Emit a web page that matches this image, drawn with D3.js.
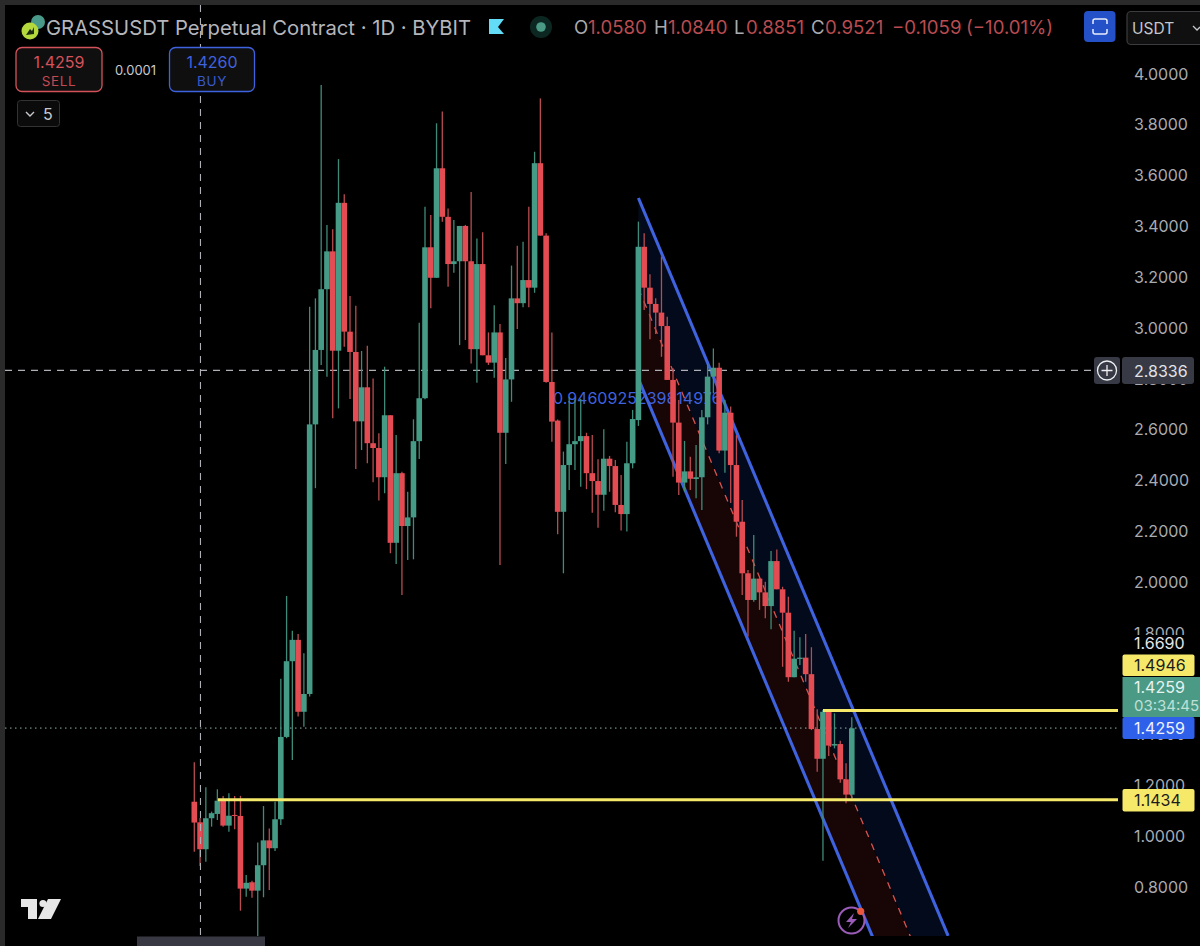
<html>
<script src='https://d3js.org/d3.v7.min.js'></script>

<head>
    <title>GRASSUSDT Perpetual Contract</title>
    <meta charset="UTF-8">
    <style>
        html, body { margin: 0; padding: 0; background: #000; overflow: hidden; }
        text { font-family: Inter, "Noto Sans", sans-serif; }
    </style>
</head>

<body onload='init()'>
    <svg id="chart" width=1200 height=946></svg>
<script>
        // daily candles
        const opens = [1.136,1.055,0.949,1.071,1.088,1.140,1.042,1.084,1.080,0.794,0.819,0.786,0.886,0.984,0.953,1.067,1.391,1.689,1.773,1.490,
            1.560,2.621,2.914,3.153,3.302,2.911,3.493,2.986,2.906,2.633,2.767,2.547,2.528,2.413,2.657,2.155,2.429,2.221,2.255,2.555,
            2.724,3.318,3.198,3.629,3.438,3.252,3.263,3.402,3.263,2.917,3.252,2.893,2.864,2.983,2.588,2.798,3.117,3.098,3.189,3.159,
            3.649,3.364,2.788,2.636,2.277,2.461,2.543,2.555,2.575,2.429,2.398,2.344,2.486,2.457,2.304,2.268,2.468,2.638,3.320,3.159,
            3.095,3.061,3.008,2.796,2.628,2.392,2.436,2.406,2.413,2.649,2.809,2.844,2.518,2.667,2.461,2.238,2.035,1.930,2.014,1.960,
            1.906,2.083,1.972,1.880,1.626,1.698,1.703,1.638,1.422,1.305,1.490,1.357,1.363,1.224,1.164];
        const highs = [1.291,1.072,1.193,1.097,1.185,1.159,1.169,1.159,1.159,0.848,0.825,0.976,1.119,1.031,1.136,1.620,1.946,1.809,1.796,1.720,
            3.084,3.117,3.957,3.406,3.389,3.665,3.527,3.126,3.088,2.910,2.931,2.802,2.586,2.848,2.657,2.579,2.435,2.356,2.641,3.021,
            3.478,3.445,3.806,3.852,3.471,3.425,3.402,3.406,3.536,3.353,3.377,2.983,3.090,3.016,2.882,3.246,3.324,3.340,3.478,3.694,
            3.904,3.373,2.983,2.640,2.514,2.730,2.720,2.721,2.588,2.579,2.484,2.602,2.497,2.481,2.422,2.553,2.678,3.419,3.373,3.212,
            3.117,3.281,3.045,2.842,2.717,2.556,2.494,2.540,2.678,2.861,2.920,2.864,2.717,2.691,2.579,2.323,2.048,2.186,2.016,2.002,
            2.123,2.129,1.982,1.943,1.809,1.783,1.796,1.744,1.500,1.497,1.494,1.484,1.376,1.287,1.468];
        const lows = [0.939,0.883,0.900,1.038,1.064,1.038,1.018,1.028,0.707,0.762,0.758,0.605,0.760,0.789,0.942,1.044,1.386,1.300,1.471,1.431,
            1.550,2.370,2.855,2.809,2.645,2.684,2.927,2.721,2.445,2.520,2.468,2.393,2.321,2.350,2.114,2.072,1.950,2.087,2.090,2.485,
            2.720,3.078,3.198,3.419,3.163,3.218,2.933,2.953,2.861,2.785,2.893,2.855,2.805,2.068,2.465,2.710,2.996,3.082,3.082,3.139,
            3.364,2.785,2.553,2.189,2.035,2.363,2.442,2.376,2.366,2.273,2.214,2.281,2.356,2.275,2.203,2.199,2.448,2.615,3.071,2.956,
            2.977,2.887,2.796,2.415,2.343,2.356,2.363,2.330,2.284,2.621,2.743,2.507,2.431,2.312,2.179,1.950,1.786,1.923,1.891,1.858,
            1.815,1.972,1.667,1.608,1.626,1.674,1.608,1.418,1.254,0.904,1.316,1.346,1.211,1.130,1.150];
        const closes = [1.054,0.949,1.071,1.091,1.140,1.042,1.081,1.080,0.794,0.817,0.786,0.886,0.984,0.953,1.067,1.391,1.689,1.773,1.490,1.560,
            2.621,2.914,3.153,3.302,2.911,3.493,2.986,2.906,2.633,2.767,2.547,2.528,2.413,2.657,2.155,2.429,2.221,2.255,2.555,2.724,
            3.318,3.198,3.629,3.438,3.252,3.263,3.402,3.263,2.917,3.252,2.893,2.864,2.983,2.588,2.798,3.117,3.098,3.189,3.159,3.649,
            3.364,2.788,2.632,2.277,2.461,2.543,2.555,2.575,2.429,2.398,2.344,2.486,2.457,2.304,2.268,2.468,2.642,3.320,3.159,3.095,
            3.061,3.008,2.796,2.628,2.392,2.436,2.407,2.413,2.649,2.809,2.844,2.518,2.667,2.461,2.238,2.035,1.930,2.014,1.960,1.906,
            2.083,1.972,1.880,1.626,1.699,1.703,1.638,1.422,1.305,1.490,1.357,1.363,1.224,1.164,1.425];

        const priceTicks = [4.0,3.8,3.6,3.4,3.2,3.0,2.8,2.6,2.4,2.2,2.0,1.8,1.6,1.4,1.2,1.0,0.8];

        // parallel channel drawing: [bar index, price] at both ends
        const channelBars = [77, 130.7];
        const channelUpper = [3.512, 0.608];
        const channelMiddle = [3.156, 0.252];
        const channelLower = [2.800, -0.104];

        const resistance = 1.4946;
        const support = 1.1434;
        const lastPrice = 1.4259;
        const crossPrice = 2.8336;
        const crossBar = 1.07;

        const upColor = '#459b85', downColor = '#e34c52';
        const upWick = '#3f8b78', downWick = '#b84c50';
        const blue = '#3f62de', yellow = '#f6e96a';

        function init() {
            const svg = d3.select('#chart');
            const x = d3.scaleLinear().domain([0, opens.length - 1]).range([194.3, 851.8]);
            const y = d3.scaleLinear().domain([4, 0.8]).range([74, 887.1]);

            svg.append('rect').attr('width', 1200).attr('height', 946).attr('fill', '#000');

            svg.append('clipPath').attr('id', 'plot').append('rect')
                .attr('x', 5).attr('y', 5).attr('width', 1113).attr('height', 931);
            const plot = svg.append('g').attr('clip-path', 'url(#plot)');

            // channel fills
            const band = d3.area().x(d => x(d[0])).y0(d => y(d[1])).y1(d => y(d[2]));
            plot.append('path').attr('fill', '#030a1b')
                .attr('d', band(channelBars.map((b, i) => [b, channelUpper[i], channelMiddle[i]])));
            plot.append('path').attr('fill', '#180506')
                .attr('d', band(channelBars.map((b, i) => [b, channelMiddle[i], channelLower[i]])));

            const line = d3.line().x(d => x(d[0])).y(d => y(d[1]));
            plot.append('path').attr('fill', 'none').attr('stroke', '#d9534f').attr('stroke-width', 1.3)
                .attr('stroke-dasharray', '7 7')
                .attr('d', line(channelBars.map((b, i) => [b, channelMiddle[i]])));
            [channelUpper, channelLower].forEach(s => {
                plot.append('path').attr('fill', 'none').attr('stroke', blue).attr('stroke-width', 3.1)
                    .attr('d', line(channelBars.map((b, i) => [b, s[i]])));
            });

            plot.append('text').attr('x', 553).attr('y', 404).attr('fill', blue)
                .attr('font-size', 16).text('0.9460925239814976');

            // crosshair and last price line
            plot.append('line').attr('x1', 5).attr('x2', 1094).attr('y1', y(crossPrice)).attr('y2', y(crossPrice))
                .attr('stroke', '#aeb0b6').attr('stroke-width', 1.1).attr('stroke-dasharray', '7 6');
            svg.append('line').attr('x1', x(crossBar)).attr('x2', x(crossBar)).attr('y1', 5).attr('y2', 936)
                .attr('stroke', '#aeb0b6').attr('stroke-width', 1.1).attr('stroke-dasharray', '7 6');
            plot.append('line').attr('x1', 5).attr('x2', 1120).attr('y1', y(lastPrice)).attr('y2', y(lastPrice))
                .attr('stroke', '#8fb5aa').attr('stroke-width', 1).attr('stroke-dasharray', '1.5 3.5');

            // candles
            const bars = plot.append('g').selectAll('g').data(d3.range(opens.length)).enter().append('g');
            bars.append('line')
                .attr('x1', i => x(i)).attr('x2', i => x(i))
                .attr('y1', i => y(highs[i])).attr('y2', i => y(lows[i]))
                .attr('stroke', i => closes[i] >= opens[i] ? upWick : downWick)
                .attr('stroke-width', 1.3);
            bars.append('rect')
                .attr('x', i => x(i) - 2.8).attr('width', 5.6)
                .attr('y', i => y(Math.max(opens[i], closes[i])))
                .attr('height', i => Math.max(1, Math.abs(y(opens[i]) - y(closes[i]))))
                .attr('fill', i => closes[i] >= opens[i] ? upColor : downColor);

            // horizontal levels
            plot.append('line').attr('x1', x(109)).attr('x2', 1118).attr('y1', y(resistance)).attr('y2', y(resistance))
                .attr('stroke', yellow).attr('stroke-width', 3);
            plot.append('line').attr('x1', 218).attr('x2', 1118).attr('y1', y(support)).attr('y2', y(support))
                .attr('stroke', yellow).attr('stroke-width', 3);

            // price axis
            const axis = svg.append('g').attr('transform', 'translate(1118,0)')
                .call(d3.axisRight(y).tickValues(priceTicks).tickFormat(d3.format('.4f')).tickSize(0).tickPadding(16));
            axis.select('.domain').remove();
            axis.selectAll('text').attr('fill', '#a9abb1').attr('font-size', 16).style('font-family', 'Inter, sans-serif');

            // price labels on the axis
            function priceLabel(top, h, w, fill, color, label, size) {
                svg.append('rect').attr('x', 1122.5).attr('y', top).attr('width', w).attr('height', h).attr('rx', 2).attr('fill', fill);
                svg.append('text').attr('x', 1134).attr('y', top + h / 2 + 6).attr('fill', color)
                    .attr('font-size', size || 16).text(label);
            }
            svg.append('rect').attr('x', 1122).attr('y', 635).attr('width', 78).attr('height', 19).attr('fill', '#000');
            svg.append('text').attr('x', 1134).attr('y', 649).attr('fill', '#e4e5e8').attr('font-size', 16).text('1.6690');
            priceLabel(654.5, 21.5, 72, yellow, '#1c1c1c', d3.format('.4f')(resistance));
            priceLabel(717, 22, 72, '#2f60ea', '#f0f3ff', d3.format('.4f')(lastPrice));
            priceLabel(789, 22.5, 72, yellow, '#1c1c1c', d3.format('.4f')(support));
            svg.append('rect').attr('x', 1122.5).attr('y', 677).attr('width', 78).attr('height', 40).attr('fill', '#4a9a85');
            svg.append('text').attr('x', 1134).attr('y', 693).attr('fill', '#e6f3ef').attr('font-size', 16).text(d3.format('.4f')(lastPrice));
            svg.append('text').attr('x', 1134).attr('y', 711).attr('fill', '#bfe0d7').attr('font-size', 15).text('03:34:45');

            // crosshair label
            svg.append('rect').attr('x', 1094).attr('y', 357).attr('width', 26).attr('height', 27).attr('rx', 3).attr('fill', '#373945');
            svg.append('circle').attr('cx', 1107).attr('cy', 370.5).attr('r', 9.5).attr('fill', 'none').attr('stroke', '#eeeff1').attr('stroke-width', 1.3);
            svg.append('path').attr('d', 'M1101.5 370.5H1112.5M1107 365V376').attr('stroke', '#eeeff1').attr('stroke-width', 1.3);
            svg.append('rect').attr('x', 1122).attr('y', 357).attr('width', 72).attr('height', 27).attr('rx', 3).attr('fill', '#373945');
            svg.append('text').attr('x', 1134).attr('y', 376.5).attr('fill', '#e2e3e6').attr('font-size', 16).text(d3.format('.4f')(crossPrice));

            // header
            svg.append('circle').attr('cx', 38).attr('cy', 22).attr('r', 7).attr('fill', '#4a9a8a');
            svg.append('circle').attr('cx', 30).attr('cy', 31).attr('r', 8.5).attr('fill', '#b4d93c');
            svg.append('path').attr('d', 'M26 35L30 29L32 31L34 27L34 34Z').attr('fill', '#1c2a10');
            svg.append('text').attr('x', 46).attr('y', 34.5).attr('fill', '#b4b6bb').attr('font-size', 20.25)
                .text('GRASSUSDT Perpetual Contract · 1D · BYBIT');
            svg.append('path').attr('d', 'M489 19H504L498 27L504 34H489Z').attr('fill', '#62dcf7');
            svg.append('circle').attr('cx', 541).attr('cy', 27).attr('r', 11).attr('fill', '#0c2721');
            svg.append('circle').attr('cx', 541).attr('cy', 27).attr('r', 4.8).attr('fill', '#4a9a85');

            const ohlc = svg.append('text').attr('y', 33.5).attr('font-size', 18.6);
            [['O', 574, '#a9abb1'], ['1.0580', 588, downWick], ['H', 654, '#a9abb1'], ['1.0840', 668, downWick],
             ['L', 734, '#a9abb1'], ['0.8851', 746, downWick], ['C', 811, '#a9abb1'], ['0.9521', 825, downWick],
             ['−0.1059', 892, downWick], ['(−10.01%)', 966, downWick]].forEach(p => {
                ohlc.append('tspan').attr('x', p[1]).attr('fill', p[2]).text(p[0]);
            });

            // sell / buy boxes
            function tradeBox(left, w, color, price, label) {
                svg.append('rect').attr('x', left).attr('y', 47.5).attr('width', w).attr('height', 44).attr('rx', 6)
                    .attr('fill', '#0f0f10').attr('stroke', color).attr('stroke-width', 1.3);
                svg.append('text').attr('x', left + w / 2).attr('y', 68).attr('text-anchor', 'middle').attr('fill', color)
                    .attr('font-size', 16).text(price);
                svg.append('text').attr('x', left + w / 2).attr('y', 86).attr('text-anchor', 'middle').attr('fill', color)
                    .attr('font-size', 13.5).attr('letter-spacing', 0.6).attr('opacity', 0.9).text(label);
            }
            tradeBox(16, 86, '#d4525a', '1.4259', 'SELL');
            tradeBox(169.5, 85, '#3f62de', '1.4260', 'BUY');
            svg.append('text').attr('x', 135.5).attr('y', 75).attr('text-anchor', 'middle').attr('fill', '#c8c9cc')
                .attr('font-size', 13).text('0.0001');

            svg.append('rect').attr('x', 17.5).attr('y', 100.5).attr('width', 42).attr('height', 26).attr('rx', 3)
                .attr('fill', '#0b0b0c').attr('stroke', '#333').attr('stroke-width', 1);
            svg.append('path').attr('d', 'M26 112L30 116L34 112').attr('fill', 'none').attr('stroke', '#c8c9cc').attr('stroke-width', 1.4);
            svg.append('text').attr('x', 43).attr('y', 120).attr('fill', '#c8c9cc').attr('font-size', 16).text('5');

            // toolbar buttons on the right
            svg.append('rect').attr('x', 1084).attr('y', 11).attr('width', 31.5).attr('height', 31).attr('rx', 4).attr('fill', '#2450c8');
            svg.append('path').attr('d', 'M1093 24V21Q1093 19 1095 19H1105Q1107 19 1107 21V24M1093 29V32Q1093 34 1095 34H1105Q1107 34 1107 32V29')
                .attr('fill', 'none').attr('stroke', '#e8edfb').attr('stroke-width', 1.5);
            svg.append('rect').attr('x', 1127).attr('y', 11.5).attr('width', 80).attr('height', 33).attr('rx', 4)
                .attr('fill', '#101011').attr('stroke', '#3c3c3e').attr('stroke-width', 1.2);
            svg.append('text').attr('x', 1132).attr('y', 34).attr('fill', '#c4c6ca').attr('font-size', 15.5).text('USDT');
            svg.append('path').attr('d', 'M1193 26L1197 30L1200 27').attr('fill', 'none').attr('stroke', '#c4c6ca').attr('stroke-width', 1.3);

            // bolt badge
            svg.append('circle').attr('cx', 851.5).attr('cy', 920.5).attr('r', 13).attr('fill', '#000').attr('stroke', '#9a5cb8').attr('stroke-width', 2);
            svg.append('path').attr('d', 'M854 913L846 922H851L848 928L857 919H852Z').attr('fill', '#9a5cb8');
            svg.append('circle').attr('cx', 860.7).attr('cy', 911.3).attr('r', 3.6).attr('fill', '#e8563f');

            // TradingView logo
            svg.append('path').attr('fill', '#e6e6e6')
                .attr('d', 'M21 899H37V919H28V907H21Z M48 899H61L51 919H38Z');
            svg.append('circle').attr('cx', 43).attr('cy', 903.5).attr('r', 3.6).attr('fill', '#e6e6e6');

            // scrollbar and window edges
            svg.append('rect').attr('x', 137).attr('y', 936.5).attr('width', 128).attr('height', 10).attr('fill', '#383842');
            svg.append('rect').attr('width', 1200).attr('height', 5).attr('fill', '#2a2a2b');
            svg.append('rect').attr('width', 5).attr('height', 946).attr('fill', '#2a2a2b');
        }
    </script>
</body>

</html>
